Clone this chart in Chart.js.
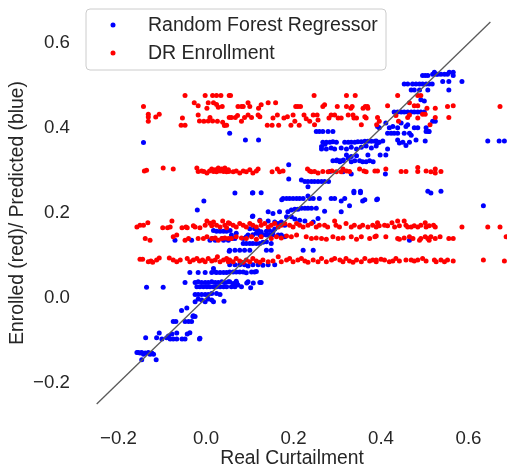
<!DOCTYPE html>
<html lang="en">
<head>
  <meta charset="UTF-8">
  <title>Enrolled vs Predicted Curtailment</title>
  <script src="https://cdn.jsdelivr.net/npm/chart.js"></script>
  <style>
    body { margin: 0; background: #fff; }
    .wrap { width: 507px; height: 470px; position: relative; }
  </style>
</head>
<body>
  <div class="wrap"><canvas id="scatter"></canvas></div>

  <script>
    // axis setup
    const xTicks = [-0.2, 0.0, 0.2, 0.4, 0.6];
    const yTicks = [-0.2, 0.0, 0.2, 0.4, 0.6];
    const diagEnds = [-0.25, 0.65];

    // Random Forest Regressor predictions [real, predicted]
    const rfLow = [
      [-.158,-.129],[-.155,-.129],[-.151,-.130],[-.147,-.129],[-.143,-.133],[-.139,-.130],[-.132,-.129],[-.128,-.133],
      [-.124,-.130],[-.120,-.133],[-.147,-.146],[-.114,-.146],
      [-.138,-.094],[-.113,-.094],[-.107,-.083],[-.101,-.097],[-.090,-.094],[-.086,-.090],[-.082,-.097],[-.078,-.085],
      [-.075,-.097],[-.067,-.097],[-.067,-.083],[-.055,-.097],[-.048,-.097],[-.043,-.085],[-.037,-.082],[-.015,-.097],
      [-.075,-.056],[-.069,-.056],[-.048,-.056],[-.040,-.056],[-.033,-.056],[-.030,-.044],[-.025,-.044],[-.056,-.030],
      [-.044,-.024],[-.014,-.095],[-.136,.025],[-.098,.025],[-.029,-.042]
    ];
    const rfNearZero = [
      [-.005,.228],[-.020,.207],
      [-.037,.060],[-.018,.060],[-.002,.060],[.013,.060],[.021,.061],[.024,.060],[.032,.060],[.040,.060],[.047,.060],[.017,.069],
      [-.048,.036],[-.025,.036],[-.018,.038],[-.010,.036],[-.002,.036],[.005,.036],[.013,.038],[.021,.036],[.028,.036],
      [.036,.038],[.043,.036],[.051,.038],
      [-.021,.026],[-.014,.026],[-.006,.026],[.002,.026],[.009,.026],[.017,.026],[.024,.026],[.032,.026],[.040,.026],[.047,.026],
      [-.025,.008],[-.018,.008],[-.010,.008],[-.002,.008],[.005,.008],[.013,.010],[.024,.010],[.032,.008],
      [-.025,-.009],[-.018,-.003],[-.010,-.005],[-.002,-.009],[.005,-.003],[.013,-.005],[.017,-.009],[.041,-.008],
      [-.071,.136],[-.033,.136],[.009,.136],[.021,.136],[.024,.157],[.032,.157],[.040,.157],[.047,.157],[.051,.136],[.040,.136],
      [.053,.110],[.017,.159],[.055,.159],[.066,.247],[.106,.247],[.106,.192],[.014,.140],[.037,.140],[.060,.140],
      [.070,.035],[.093,.035],[.108,.035],[-.143,.366]
    ];
    const rfMid = [
      [.176,.234],[.184,.234],[.191,.234],[.199,.234],[.207,.234],[.214,.234],[.222,.234],[.233,.240],[.237,.234],[.245,.234],
      [.259,.234],[.286,.234],[.294,.234],[.309,.228],[.317,.234],[.328,.217],[.338,.248],[.353,.248],[.358,.228],
      [.363,.231],[.390,.231],[.173,.231],
      [.195,.207],[.203,.209],[.210,.209],[.218,.211],[.226,.211],[.233,.211],[.241,.211],[.252,.211],[.271,.204],[.309,.203],
      [.187,.203],[.184,.191],[.195,.191],[.203,.186],[.214,.183],[.226,.181],[.245,.179],[.256,.187],
      [.142,.203],[.153,.199],[.168,.203],[.107,.193],[.123,.183],[.142,.181],[.157,.179],[.165,.175],[.172,.179],[.180,.171],
      [.100,.163],[.111,.163],[.119,.159],[.126,.156],[.138,.157],[.145,.159],[.153,.156],[.157,.162],[.165,.148],[.172,.148],
      [.180,.144],[.096,.148],[.107,.149],[.115,.152],[.123,.148],[.130,.149],[.138,.148],[.145,.148],[.153,.149],
      [.085,.128],[.092,.128],[.100,.128],[.107,.128],[.115,.128],[.123,.128],[.130,.131],[.138,.132],[.149,.128],
      [.066,.140],[.058,.148],[.069,.152],[.085,.140],[.092,.144],
      [.054,.112],[.066,.112],[.077,.112],[.088,.112],[.100,.112],[.138,.112],[.149,.112],[.222,.112],[.245,.112],
      [.054,.078],[.066,.078],[.077,.078],[.088,.078],[.096,.075],[.107,.078],[.119,.078],[.130,.077],[.142,.078],[.157,.078],
      [.054,.061],[.062,.061],[.069,.061],[.077,.061],[.085,.061],[.092,.059],[.104,.061],[.111,.061],[.115,.062],
      [.054,.038],[.062,.034],[.069,.039],[.073,.030],[.081,.026],[.058,.026],[.066,.026],[.096,.038],[.102,.024],
      [.123,.036],[.126,.036],[.107,.248],[.126,.248]
    ];
    const rfUpper = [
      [.054,.388],[.090,.372],[.120,.372],[.189,.314],[.189,.280],
      [.252,.392],[.259,.392],[.267,.392],[.279,.392],[.290,.392],
      [.267,.367],[.275,.367],[.283,.367],[.290,.368],[.298,.367],[.317,.367],[.325,.367],[.332,.367],[.340,.367],
      [.347,.368],[.355,.368],[.363,.369],[.370,.369],[.378,.369],[.386,.369],
      [.264,.351],[.275,.351],[.286,.353],[.294,.351],[.309,.353],[.321,.351],[.332,.355],[.344,.351],[.355,.355],
      [.366,.358],[.378,.353],[.389,.358],[.264,.357],[.272,.362],
      [.321,.337],[.332,.333],[.344,.335],[.370,.337],
      [.290,.323],[.298,.323],[.306,.323],[.313,.323],[.325,.329],[.332,.321],[.340,.323],[.351,.323],[.358,.321],
      [.366,.321],[.374,.323],[.382,.321],[.299,.325],[.306,.321],[.314,.325],
      [.283,.298],[.313,.297],[.332,.292],[.338,.251],[.353,.251],[.233,.262],[.218,.278],[.226,.274],[.233,.274],
      [.241,.274],[.248,.274],[.256,.274],[.264,.274],[.271,.274],[.280,.274]
    ];
    const rfTop = [
      [.495,.524],[.501,.524],[.507,.524],[.518,.527],[.522,.532],[.526,.527],[.530,.527],[.537,.527],[.545,.527],
      [.552,.527],[.556,.532],[.565,.532],[.565,.524],
      [.453,.504],[.461,.504],[.472,.504],[.480,.504],[.488,.504],[.495,.504],[.503,.504],[.510,.504],[.517,.504],
      [.541,.510],[.555,.510],[.585,.510],[.469,.490],[.476,.490],[.488,.490],[.507,.490],[.555,.490],
      [.491,.467],[.499,.464],
      [.430,.438],[.438,.438],[.446,.438],[.453,.438],[.461,.438],[.469,.438],[.476,.438],[.484,.438],[.491,.438],[.499,.438],
      [.392,.404],[.396,.401],[.411,.412],[.419,.401],[.427,.404],[.438,.401],[.446,.412],[.457,.404],[.461,.408],
      [.476,.401],[.484,.401],[.503,.401],[.510,.392],[.518,.416],[.524,.416],
      [.415,.388],[.423,.388],[.430,.388],[.438,.388],[.453,.388],[.465,.388],[.469,.383],[.503,.392],[.509,.392],
      [.389,.370],[.396,.367],[.404,.370],[.438,.372],[.442,.365],[.450,.367],[.457,.359],[.465,.367],[.480,.372],
      [.501,.370],[.392,.365],[.415,.351],[.398,.337],[.411,.337],[.410,.292],
      [.644,.370],[.670,.370],[.682,.370],
      [.507,.251],[.514,.247],[.537,.251],[.392,.233],[.634,.217],[.465,.136]
    ];

    // DR Enrollment [real, enrolled]
    const drTop = [
      [-.143,.451],[-.132,.433],[-.132,.426],[-.132,.416],[-.115,.426],[-.107,.433],[-.048,.477],[-.027,.460],[-.018,.453],
      [-.054,.424],[-.057,.407],[-.048,.407],[-.018,.431],[-.002,.477],[.015,.477],[.024,.477],[.034,.477],[.005,.460],
      [.017,.460],[.024,.456],[.028,.449],[.002,.447],[.037,.451],[-.015,.417],[-.005,.416],[.005,.417],[.009,.425],
      [.015,.417],[.026,.416],[.038,.414],[.042,.406],[.047,.407],[.053,.477],[.053,.425],
      [.056,.477],[.096,.460],[.073,.451],[.081,.451],[.085,.451],[.100,.451],[.126,.455],[.120,.447],[.142,.460],[.159,.460],
      [.058,.425],[.067,.425],[.072,.430],[.081,.416],[.088,.425],[.096,.431],[.104,.425],[.119,.431],[.123,.427],
      [.140,.407],[.151,.407],[.166,.407],[.153,.424],[.163,.431],[.178,.424],[.186,.427],[.194,.407],[.199,.431],
      [.205,.451],[.210,.451],[.216,.451],[.203,.416],[.213,.407],
      [.224,.431],[.229,.422],[.237,.416],[.245,.431],[.248,.408],[.254,.431],[.256,.419],[.247,.477],
      [.267,.451],[.271,.455],[.281,.424],[.286,.431],[.294,.431],[.300,.451],[.302,.424],[.309,.424],[.321,.451],
      [.321,.477],[.325,.431],[.331,.447],[.334,.451],[.336,.431],[.338,.424],[.341,.477],[.344,.424],
      [.359,.447],[.364,.451],[.369,.451],[.370,.447],[.363,.427],[.366,.424],[.392,.425],[.355,.408],
      [.438,.477],[.415,.453],[.484,.477],[.491,.477],[.465,.460],[.476,.453],[.484,.453],[.505,.447],[.524,.447],
      [.552,.451],[.565,.453],[.672,.451],
      [.434,.430],[.461,.425],[.465,.431],[.484,.424],[.495,.433],[.501,.433],[.512,.408],[.524,.425],[.555,.425],
      [.440,.416],[.396,.416],[.390,.408]
    ];
    const dr30 = [
      [-.141,.299],[-.136,.301],[-.098,.306],[-.075,.304],
      [-.021,.306],[-.018,.298],[-.010,.299],[-.005,.298],[.002,.294],[.008,.299],[.013,.304],[.017,.298],[.021,.302],
      [.024,.297],[.028,.306],[.032,.299],[.036,.304],[.040,.298],[.043,.306],[.047,.297],[.051,.302],
      [.052,.298],[.062,.297],[.069,.299],[.077,.294],[.085,.299],[.092,.297],[.100,.302],[.107,.294],[.115,.299],[.119,.304],
      [.151,.297],[.163,.304],[.168,.297],[.176,.299],
      [.232,.304],[.237,.299],[.241,.297],[.248,.298],[.256,.294],[.267,.298],[.279,.297],[.288,.299],[.298,.297],
      [.309,.297],[.313,.304],[.321,.299],[.328,.298],[.351,.304],[.361,.299],[.366,.297],[.386,.299],
      [.392,.299],[.411,.304],[.446,.298],[.457,.298],[.484,.307],[.484,.298],[.503,.299],[.514,.297],[.524,.304],
      [.524,.294],[.537,.298]
    ];
    const dr17 = [
      [-.158,.167],[-.151,.171],[-.143,.171],[-.133,.177],[-.099,.165],[-.088,.165],[-.082,.167],[-.078,.181],[-.055,.165],
      [-.046,.167],[-.043,.165],[-.029,.170],[-.025,.167],[-.014,.165],[-.002,.171],[.002,.181],[.009,.176],[.013,.170],
      [.017,.179],[.024,.171],[.032,.167],[.038,.181],[.043,.171],[.051,.177],[.047,.165],
      [.054,.175],[.062,.171],[.069,.167],[.077,.175],[.085,.171],[.092,.167],[.100,.175],[.107,.171],[.115,.167],[.123,.181],
      [.126,.171],[.134,.175],[.142,.167],[.149,.171],[.157,.175],[.165,.167],[.172,.171],[.180,.175],[.191,.171],[.199,.167],
      [.207,.175],[.214,.171],[.222,.167],[.233,.171],[.241,.175],[.252,.167],[.259,.171],[.271,.171],[.278,.167],[.294,.181],
      [.297,.171],[.305,.167],[.320,.175],[.332,.167],[.339,.171],[.351,.167],[.358,.171],[.370,.167],[.381,.171],[.389,.167],
      [.392,.177],[.396,.170],[.408,.171],[.415,.170],[.425,.177],[.431,.167],[.438,.181],[.442,.170],[.453,.181],[.457,.171],
      [.461,.167],[.469,.167],[.476,.170],[.484,.167],[.491,.171],[.501,.177],[.503,.167],[.510,.170],[.520,.171],[.524,.167],
      [.585,.167],[.644,.167],[.672,.167]
    ];
    const dr15 = [
      [-.139,.140],[-.128,.136],[-.075,.144],[-.067,.148],[-.048,.136],[-.040,.140],[-.018,.140],[-.006,.140],[.002,.144],
      [.013,.140],[.021,.141],[.028,.136],[.036,.140],[.043,.141],[.051,.140],
      [.058,.140],[.069,.144],[.081,.141],[.092,.140],[.104,.144],[.115,.138],[.126,.144],[.149,.140],[.161,.144],[.172,.141],
      [.184,.146],[.195,.144],[.207,.148],[.229,.144],[.241,.140],[.252,.141],[.264,.140],[.275,.138],[.290,.144],[.302,.140],
      [.313,.141],[.332,.144],[.344,.138],[.355,.144],[.374,.140],[.386,.144],
      [.389,.146],[.411,.144],[.438,.140],[.442,.138],[.453,.141],[.465,.144],[.473,.140],[.488,.136],[.491,.140],[.501,.144],
      [.507,.140],[.510,.136],[.514,.144],[.524,.140],[.535,.144],[.555,.140],[.565,.140],[.686,.144]
    ];
    const dr09 = [
      [-.151,.091],[-.145,.091],[-.132,.085],[-.126,.087],[-.122,.084],[-.113,.089],[-.107,.094],[-.084,.094],[-.075,.089],
      [-.067,.085],[-.059,.089],[-.043,.093],[-.037,.085],[-.029,.089],[-.021,.093],[-.015,.087],[-.008,.089],[-.002,.085],
      [.005,.093],[.013,.087],[.021,.089],[.026,.097],[.032,.085],[.040,.089],[.047,.093],[.051,.085],
      [.054,.089],[.062,.085],[.069,.093],[.077,.087],[.085,.084],[.092,.089],[.100,.085],[.107,.093],[.115,.087],[.123,.084],
      [.130,.089],[.142,.085],[.153,.087],[.165,.097],[.172,.085],[.184,.089],[.191,.093],[.199,.085],[.210,.089],[.218,.093],
      [.226,.087],[.233,.084],[.245,.089],[.256,.085],[.264,.093],[.275,.085],[.287,.089],[.294,.093],[.306,.089],[.313,.085],
      [.320,.093],[.328,.087],[.336,.084],[.344,.089],[.355,.085],[.363,.093],[.374,.087],[.381,.089],[.389,.085],
      [.389,.089],[.400,.091],[.408,.089],[.419,.085],[.427,.087],[.434,.093],[.442,.087],[.457,.089],[.469,.089],[.476,.087],
      [.484,.089],[.495,.093],[.503,.087],[.522,.089],[.526,.085],[.537,.089],[.545,.085],[.552,.089],[.565,.087],
      [.634,.089],[.682,.087]
    ];

    function toPoints(groups) {
      return [].concat(...groups).map(([x, y]) => ({ x: x, y: y }));
    }

    const textColor = '#262626';
    const fontFamily = "Arial, 'Liberation Sans', sans-serif";

    function tickLabel(v) {
      if (Math.abs(v) < 1e-9) return '0.0';
      return (v < 0 ? '\u2212' : '') + Math.abs(v).toFixed(1);
    }

    // legend drawn as a framed box inside the plot, like matplotlib's
    const boxLegend = {
      id: 'boxLegend',
      afterDraw(chart) {
        const ctx = chart.ctx;
        const x = 86, y = 9, w = 300, h = 61, r = 4;
        ctx.save();
        ctx.beginPath();
        ctx.moveTo(x + r, y);
        ctx.arcTo(x + w, y, x + w, y + h, r);
        ctx.arcTo(x + w, y + h, x, y + h, r);
        ctx.arcTo(x, y + h, x, y, r);
        ctx.arcTo(x, y, x + w, y, r);
        ctx.closePath();
        ctx.fillStyle = 'rgba(255,255,255,0.8)';
        ctx.fill();
        ctx.strokeStyle = '#cccccc';
        ctx.lineWidth = 1;
        ctx.stroke();
        ctx.font = '19.5px ' + fontFamily;
        ctx.textBaseline = 'middle';
        [0, 1].forEach((i, k) => {
          const ds = chart.data.datasets[i];
          const cy = 25 + k * 28;
          ctx.fillStyle = ds.backgroundColor;
          ctx.beginPath();
          ctx.arc(113, cy, 2.5, 0, Math.PI * 2);
          ctx.fill();
          ctx.fillStyle = textColor;
          ctx.fillText(ds.label, 148, cy + 1);
        });
        ctx.restore();
      }
    };

    const ctx = document.getElementById('scatter').getContext('2d');
    new Chart(ctx, {
      type: 'scatter',
      data: {
        datasets: [
          {
            label: 'Random Forest Regressor',
            data: toPoints([rfLow, rfNearZero, rfMid, rfUpper, rfTop]),
            backgroundColor: '#0000ff',
            pointRadius: 2.5,
            pointBorderWidth: 0,
            order: 2
          },
          {
            label: 'DR Enrollment',
            data: toPoints([drTop, dr30, dr17, dr15, dr09]),
            backgroundColor: '#ff0000',
            pointRadius: 2.5,
            pointBorderWidth: 0,
            order: 1
          },
          {
            label: 'y = x',
            data: diagEnds.map(v => ({ x: v, y: v })),
            showLine: true,
            borderColor: '#5a5a5a',
            borderWidth: 1.3,
            pointRadius: 0,
            order: 0
          }
        ]
      },
      options: {
        responsive: true,
        maintainAspectRatio: false,
        animation: false,
        layout: { autoPadding: false, padding: { top: 3, right: 0, bottom: 0, left: 0 } },
        plugins: {
          legend: { display: false },
          tooltip: { enabled: false }
        },
        scales: {
          x: {
            type: 'linear',
            min: -0.295,
            max: 0.688,
            grid: { display: false, drawTicks: false },
            border: { display: false },
            afterFit: s => { s.height = 47; s.paddingLeft = 0; s.paddingRight = 0; },
            afterBuildTicks: s => { s.ticks = xTicks.map(v => ({ value: v })); },
            ticks: {
              padding: 5,
              color: textColor,
              font: { size: 18.7, family: fontFamily },
              callback: tickLabel
            },
            title: {
              display: true,
              text: 'Real Curtailment',
              color: textColor,
              padding: 0,
              font: { size: 19.3, family: fontFamily }
            }
          },
          y: {
            type: 'linear',
            min: -0.295,
            max: 0.695,
            grid: { display: false, drawTicks: false },
            border: { display: false },
            afterFit: s => { s.width = 77; s.paddingTop = 0; s.paddingBottom = 0; },
            afterBuildTicks: s => { s.ticks = yTicks.map(v => ({ value: v })); },
            ticks: {
              padding: 7,
              color: textColor,
              font: { size: 18.7, family: fontFamily },
              callback: tickLabel
            },
            title: {
              display: true,
              text: 'Enrolled (red)/ Predicted (blue)',
              color: textColor,
              padding: { top: 6, bottom: 0 },
              font: { size: 19.3, family: fontFamily }
            }
          }
        }
      },
      plugins: [boxLegend]
    });
  </script>
</body>
</html>
